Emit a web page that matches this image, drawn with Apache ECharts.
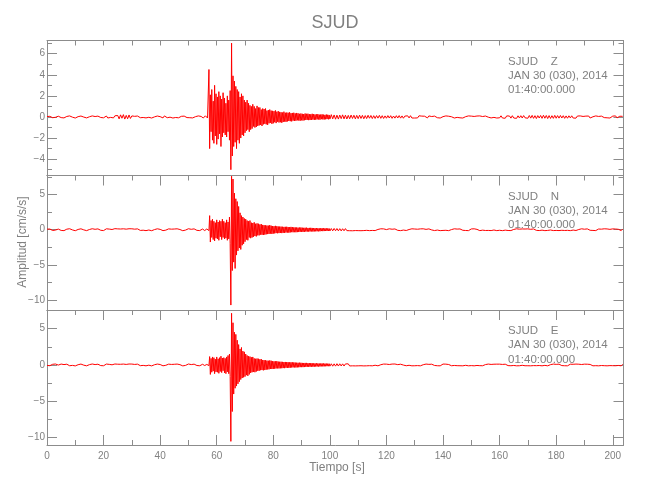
<!DOCTYPE html>
<html><head><meta charset="utf-8">
<script src="https://cdn.jsdelivr.net/npm/echarts@6/dist/echarts.min.js"></script>
<style>html,body{margin:0;padding:0;background:#fff}#c{width:650px;height:500px}</style>
</head><body><div id="c"></div>
<script>
// ---------- text ----------
const stationName = 'SJUD';
const componentNames = ['Z', 'N', 'E'];
const dateText = 'JAN 30 (030), 2014';
const startText = '01:40:00.000';
const xTitle = 'Tiempo [s]';
const yTitle = 'Amplitud [cm/s/s]';

// ---------- axes ----------
const timeRange = [0, 203.8];
const timeTickStep = 20;
const zRange = [-5.55, 7.25];
const nRange = [-11.4, 7.7];
const eRange = [-11, 7.55];
const ampTickSteps = [2, 5, 5];

// ---------- sampling of the readings: pre-event, event, coda tail ----------
const segmentStarts = [0, 55, 100];   // s
const segmentSteps = [0.5, 0.25, 0.5]; // s between readings

// ---------- Z component ----------
const zPre = [
.04,-.08,.06,.02,-.07,.09,-.03,-.1,.07,.01,
-.06,.08,-.09,.03,.05,-.07,.1,-.04,-.02,.08,
-.1,.05,.03,-.08,.09,-.05,-.01,.07,-.09,.06,
.02,-.07,.1,-.06,.04,-.09,.08,.01,-.05,.07,
-.08,.03,.09,-.1,.06,-.04,.02,-.09,.11,-.06,
.14,-.18,.2,-.12,.22,-.2,.15,-.17,.19,-.14,
.1,-.08,.06,-.11,.09,.02,-.07,.1,-.05,.04,
-.09,.07,-.03,.08,-.1,.05,.01,-.06,.09,-.08,
.03,.06,-.09,.1,-.04,-.07,.08,-.02,.05,-.1,
.07,-.05,.09,-.08,.02,.06,-.1,.08,-.03,-.06,
.1,-.07,.04,-.09,.08,.03,-.06,.1,-.08,.05
];
const zEvent = [
.08,-.1,.06,-.09,.11,-.07,.09,-.1,.05,4.5,
-3.0,2.1,-1.4,2.6,-2.2,1.5,-2.5,3.0,-1.8,2.2,
-2.6,1.9,-2.1,2.4,-1.6,2.0,-2.8,1.7,-1.9,2.3,
-1.5,1.8,-1.7,1.3,-1.9,2.0,-1.4,1.6,-2.2,2.5,
-5.0,7.0,-3.7,3.9,-2.8,3.4,-2.4,2.9,-3.0,2.6,
-2.2,2.4,-2.5,1.9,-2.0,2.2,-1.7,2.0,-1.8,1.6,
-1.5,1.4,-1.3,1.6,-1.2,1.3,-1.4,1.1,-1.2,1.0,
-1.1,1.2,-.9,1.0,-1.0,.8,-.95,1.05,-.85,.9,
-.8,.9,-.75,.7,-.85,.8,-.7,.75,-.65,.8,
-.7,.6,-.75,.65,-.6,.7,-.55,.6,-.65,.58,
-.6,.55,-.5,.62,-.58,.5,-.45,.55,-.52,.48,
-.5,.45,-.55,.42,-.48,.5,-.44,.4,-.46,.42,
-.42,.4,-.38,.44,-.4,.36,-.42,.38,-.35,.4,
-.38,.34,-.36,.38,-.32,.35,-.34,.3,-.36,.33,
-.32,.3,-.34,.28,-.31,.33,-.29,.3,-.27,.31,
-.3,.27,-.29,.26,-.28,.3,-.25,.27,-.28,.24,
-.26,.25,-.23,.27,-.24,.22,-.26,.23,-.21,.25,
-.23,.22,-.24,.2,-.22,.23,-.2,.21,-.22,.19
];
const zPost = [
-.2,.22,-.18,.19,-.21,.17,-.2,.18,-.16,.2,
-.18,.17,-.19,.15,-.17,.18,-.14,.16,-.18,.15,
-.16,.17,-.14,.15,-.17,.13,-.15,.16,-.12,.14,
-.15,.12,-.14,.13,-.11,.15,-.13,.12,-.14,.1,
-.12,.13,-.1,.12,-.13,.09,-.11,.12,-.1,.13,
-.11,.1,-.12,.08,-.1,.11,-.09,.12,-.1,.08,
-.1,.06,-.09,.11,-.04,.08,-.1,.07,.02,-.09,
.1,-.06,.04,-.1,.08,-.03,-.07,.09,-.1,.06,
.03,-.08,.1,-.05,.07,-.09,.02,.08,-.1,.06,
-.04,.09,-.08,.05,-.1,.07,.03,-.09,.1,-.06,
.08,-.1,.05,-.03,.09,-.07,.1,-.08,.04,-.06,
.09,-.05,-.02,.1,-.09,.07,-.04,.08,-.1,.06,
-.08,.11,-.1,.07,-.12,.1,-.06,.09,-.11,.12,
-.1,.08,-.13,.11,-.09,.12,-.1,.13,-.08,.1,
-.12,.14,-.11,.15,-.13,.12,-.15,.13,-.1,.14,
-.13,.16,-.12,.14,-.15,.13,-.14,.12,-.13,.15,
-.12,.13,-.11,.14,-.1,.12,-.13,.1,-.12,.11,
-.09,.11,-.1,.07,-.11,.09,-.06,.1,-.08,.05,
-.1,.08,-.04,.09,-.1,.06,.02,-.08,.1,-.07,
.05,-.09,.08,-.03,-.06,.1,-.08,.07,-.1,.04,
.08,-.06,.1,-.09,.03,.07,-.1,.06
];

// ---------- N component ----------
const nPre = [
.08,-.12,.1,.03,-.11,.13,-.05,-.14,.09,.02,
-.1,.12,-.13,.05,.08,-.11,.14,-.06,-.03,.12,
-.14,.08,.04,-.12,.13,-.08,-.02,.11,-.13,.09,
.03,-.11,.14,-.09,.06,-.13,.12,.02,-.08,.11,
-.12,.05,.13,-.14,.09,-.06,.03,-.13,.15,-.09,
.12,-.14,.1,-.05,.13,-.12,.08,-.1,.14,-.11,
.13,-.1,.08,-.14,.12,.03,-.1,.14,-.07,.06,
-.13,.1,-.04,.12,-.14,.08,.02,-.09,.13,-.12,
.05,.09,-.13,.14,-.06,-.1,.12,-.03,.08,-.14,
.1,-.08,.13,-.12,.03,.09,-.14,.12,-.05,-.09,
.14,-.1,.06,-.13,.12,.04,-.09,.14,-.12,.08
];
const nEvent = [
.1,-.13,.08,-.12,.14,-.09,.11,-.1,.07,-.12,
2.0,-1.75,1.3,-1.1,1.5,-1.4,1.2,-1.6,1.0,-1.2,
1.4,-1.3,1.1,-1.5,1.3,-1.0,1.2,-1.4,1.5,-1.1,
1.2,-1.3,1.0,-1.2,1.4,-1.5,1.1,-1.3,1.8,-2.0,
-10.7,7.6,-5.8,7.2,-4.6,5.2,-5.5,4.4,-3.6,4.0,
-3.0,3.3,-2.6,2.4,-2.8,2.0,-2.2,1.8,-2.0,1.6,
-1.7,1.5,-1.4,1.3,-1.5,1.2,-1.1,1.3,-1.2,1.0,
-1.1,.95,-1.0,1.05,-.9,.85,-.95,.9,-.8,.85,
-.8,.75,-.7,.8,-.72,.68,-.75,.65,-.7,.62,
-.65,.6,-.62,.58,-.6,.65,-.55,.57,-.6,.52,
-.55,.5,-.52,.55,-.48,.5,-.5,.46,-.48,.45,
-.46,.44,-.48,.42,-.44,.4,-.45,.41,-.4,.42,
-.4,.38,-.42,.36,-.38,.4,-.35,.37,-.36,.34,
-.35,.33,-.36,.32,-.34,.3,-.33,.31,-.3,.32,
-.3,.29,-.31,.27,-.3,.28,-.26,.29,-.27,.25,
-.27,.26,-.25,.27,-.24,.25,-.26,.23,-.24,.22,
-.23,.24,-.22,.21,-.23,.2,-.22,.21,-.19,.22,
-.2,.21,-.19,.2,-.18,.2,-.17,.19,-.18,.17
];
const nPost = [
-.18,.17,-.16,.18,-.15,.17,-.16,.15,-.17,.14,
-.15,.16,-.13,.15,-.14,.12,-.15,.13,-.12,.14,
-.13,.12,-.14,.1,-.12,.13,-.09,.12,-.13,.11,
-.1,.13,-.12,.08,.04,-.11,.13,-.09,.12,-.06,
.02,-.12,.13,-.1,.07,-.13,.11,.03,-.09,.12,
-.13,.09,-.05,.12,-.11,.06,.03,-.12,.13,-.08,
.1,-.13,.07,-.04,.12,-.1,.13,-.11,.05,-.08,
.12,-.06,-.03,.13,-.12,.09,-.05,.11,-.13,.08,
-.1,.12,-.08,.05,-.13,.1,.02,-.11,.13,-.07,
.09,-.12,.11,-.04,-.08,.13,-.11,.09,-.13,.06,
.11,-.09,.13,-.12,.05,.1,-.13,.08,-.06,.12,
-.11,.13,-.1,.07,-.12,.11,-.04,.09,-.13,.1,
-.08,.12,-.13,.1,-.06,.13,-.11,.08,-.12,.09,
.04,-.1,.13,-.12,.08,-.05,.11,-.13,.1,-.07,
.12,-.1,.06,-.13,.11,.03,-.09,.13,-.12,.07,
-.06,.11,-.13,.09,-.1,.12,-.04,.08,-.12,.13,
-.1,.07,-.12,.13,-.08,.05,-.11,.12,-.09,.1,
-.13,.1,-.05,.12,-.11,.08,.03,-.1,.13,-.12,
.07,-.09,.12,-.04,-.08,.13,-.1,.09,-.12,.06,
.1,-.12,.08,-.06,.13,-.1,.11,-.13,.05,-.09,
.12,-.08,.1,-.11,.06,.09,-.12,.1
];

// ---------- E component ----------
const ePre = [
-.07,.11,-.1,.04,.09,-.12,.13,-.05,-.02,.11,
.12,-.09,.05,-.12,.1,.02,-.11,.13,-.06,.08,
-.13,.07,.03,-.1,.12,-.07,-.03,.1,-.12,.08,
.04,-.12,.13,-.08,.05,-.11,.1,.03,-.09,.12,
-.11,.06,.12,-.13,.08,-.05,.02,-.12,.13,-.1,
.1,-.12,.09,-.06,.12,-.1,.07,-.11,.13,-.09,
.12,-.09,.07,-.13,.11,.02,-.1,.13,-.06,.05,
-.12,.09,-.03,.11,-.13,.07,.03,-.08,.12,-.1,
.06,.08,-.12,.13,-.05,-.09,.11,-.04,.07,-.13,
.09,-.07,.12,-.11,.04,.08,-.13,.11,-.06,-.08,
.13,-.09,.05,-.12,.11,.03,-.08,.13,-.11,.07
];
const eEvent = [
.09,-.12,.11,-.08,.13,-.1,.07,-.11,.12,-.09,
1.15,-1.3,.9,-1.0,1.1,-.85,1.0,-1.2,.8,-.95,
1.1,-1.0,.85,-1.15,1.0,-.9,1.2,-1.05,.95,-.8,
1.0,-1.1,.9,-1.2,1.1,-.95,1.3,-1.2,1.5,-1.6,
-10.5,7.1,-6.4,5.8,-4.0,4.5,-3.2,4.2,-2.9,3.4,
-2.6,2.8,-2.3,2.2,-2.0,2.4,-1.8,1.9,-1.7,1.8,
-1.6,1.5,-1.4,1.3,-1.5,1.2,-1.3,1.15,-1.1,1.05,
-1.0,1.1,-.95,.9,-1.0,.85,-.9,.88,-.8,.85,
-.8,.78,-.72,.8,-.7,.68,-.74,.66,-.7,.64,
-.65,.6,-.62,.58,-.6,.62,-.55,.58,-.56,.52,
-.54,.5,-.52,.5,-.48,.52,-.47,.46,-.48,.44,
-.46,.44,-.45,.42,-.43,.4,-.44,.41,-.39,.4,
-.4,.38,-.4,.36,-.38,.37,-.35,.36,-.34,.35,
-.34,.33,-.35,.31,-.33,.3,-.32,.31,-.3,.3,
-.3,.28,-.3,.27,-.29,.28,-.26,.28,-.26,.25,
-.26,.25,-.25,.26,-.24,.24,-.25,.22,-.24,.22,
-.22,.23,-.21,.21,-.22,.2,-.21,.2,-.19,.21,
-.2,.2,-.19,.19,-.18,.19,-.17,.18,-.17,.17
];
const ePost = [
-.17,.16,-.17,.15,-.16,.17,-.15,.16,-.14,.15,
-.15,.14,-.13,.15,-.14,.13,-.12,.14,-.13,.12,
-.12,.13,-.11,.12,-.13,.1,-.12,.11,-.1,.12,
-.12,.09,-.04,.11,-.12,.07,.03,-.1,.12,-.08,
.11,-.12,.06,-.03,.12,-.1,.13,-.09,.04,-.07,
.1,-.07,-.02,.12,-.11,.08,-.05,.1,-.12,.09,
-.11,.12,-.09,.06,-.12,.1,.03,-.1,.12,-.07,
.08,-.12,.1,-.05,-.07,.12,-.11,.1,-.12,.05,
.12,-.08,.11,-.12,.06,.09,-.11,.1,-.07,.11,
-.1,.12,-.11,.06,-.12,.1,-.05,.08,-.12,.11,
-.09,.11,-.12,.1,-.07,.12,-.1,.07,-.11,.09,
.05,-.1,.12,-.11,.07,-.06,.1,-.12,.11,-.08,
.11,-.1,.07,-.12,.1,.04,-.09,.12,-.11,.06,
-.07,.1,-.12,.09,-.11,.12,-.05,.09,-.11,.12,
-.11,.08,-.12,.11,-.09,.06,-.1,.12,-.08,.09,
-.12,.1,-.06,.11,-.12,.09,.04,-.1,.12,-.11,
.08,-.1,.11,-.05,-.09,.12,-.11,.08,-.12,.07,
.1,-.11,.09,-.07,.12,-.1,.1,-.12,.06,-.08,
.11,-.09,.1,-.11,.07,.08,-.12,.09,-.1,.11,
-.12,.1,-.08,.11,-.1,.06,-.12,.1,-.09,.12,
-.1,.09,-.11,.1,-.07,.11,-.12,.09
];

// ---------- drawing ----------
const traceSegments = [[zPre, zEvent, zPost], [nPre, nEvent, nPost], [ePre, eEvent, ePost]];
const ranges = [zRange, nRange, eRange];
const axisGray = '#8c8c8c';
const textGray = '#808080';
const traceRed = '#ff0000';
const fontReg = '"Liberation Sans", Arial, sans-serif';
const fontNarrow = '"Liberation Sans Narrow", "Liberation Sans", sans-serif';
const panelTops = [40.5, 175.5, 310];
const panelHeights = [135, 134.5, 135];
const plotLeft = 47, plotRight = 26.5;

function toPoints(segs) {
  const pts = [];
  segs.forEach((vals, s) => vals.forEach((v, k) => pts.push([segmentStarts[s] + k * segmentSteps[s], v])));
  return pts;
}
const minusFmt = v => String(v).replace('-', '\u2212');
const line = { color: axisGray, width: 1 };

const grid = [], xAxis = [], yAxis = [], series = [], graphic = [];
for (let i = 0; i < 3; i++) {
  grid.push({ left: plotLeft, right: plotRight, top: panelTops[i], height: panelHeights[i] });
  const last = i === 2;
  xAxis.push({
    type: 'value', gridIndex: i, position: 'bottom', min: timeRange[0], max: timeRange[1], interval: timeTickStep,
    axisLine: { show: true, onZero: false, lineStyle: line },
    axisTick: { show: last, inside: true, length: 10, lineStyle: line },
    minorTick: { show: last, splitNumber: 2, length: 5, lineStyle: line },
    axisLabel: { show: last, margin: 6, color: textGray, fontFamily: fontReg, fontSize: 10, showMaxLabel: false },
    splitLine: { show: false }, minorSplitLine: { show: false }
  });
  xAxis.push({
    type: 'value', gridIndex: i, position: 'top', min: timeRange[0], max: timeRange[1], interval: timeTickStep,
    axisLine: { show: true, onZero: false, lineStyle: line },
    axisTick: { show: true, inside: true, length: i === 0 ? 5 : 10, lineStyle: line },
    minorTick: { show: true, splitNumber: 2, length: 5, lineStyle: line },
    axisLabel: { show: false }, splitLine: { show: false }
  });
  const step = ampTickSteps[i];
  const yBase = {
    type: 'value', gridIndex: i, min: ranges[i][0], max: ranges[i][1],
    minInterval: step, maxInterval: step, splitNumber: 6,
    axisLine: { show: true, onZero: false, lineStyle: line },
    axisTick: { show: true, inside: true, length: 10, lineStyle: line },
    minorTick: { show: true, splitNumber: 2, length: 5, lineStyle: line },
    splitLine: { show: false }
  };
  yAxis.push(Object.assign({}, yBase, {
    position: 'left',
    axisLabel: { show: true, margin: 2, color: textGray, fontFamily: fontReg, fontSize: 10,
      formatter: minusFmt, showMinLabel: false, showMaxLabel: false }
  }));
  yAxis.push(Object.assign({}, yBase, { position: 'right', axisLabel: { show: false } }));

  series.push({
    type: 'line', xAxisIndex: 2 * i, yAxisIndex: 2 * i,
    data: toPoints(traceSegments[i]),
    showSymbol: false, symbol: 'none', clip: true, silent: true,
    lineStyle: { color: traceRed, width: 1 }
  });

  const infoLines = [stationName + '    ' + componentNames[i], dateText, startText];
  infoLines.forEach((t, j) => graphic.push({
    type: 'text', x: 508, y: panelTops[i] + 21 + j * 14.2,
    style: { text: t, fill: textGray, fontFamily: fontReg, fontSize: 11.5, verticalAlign: 'middle', align: 'left' }
  }));
}
graphic.push({ type: 'text', x: 335, y: 23, style: { text: stationName, fill: textGray, fontFamily: fontNarrow, fontSize: 18, align: 'center', verticalAlign: 'middle' } });
graphic.push({ type: 'text', x: 337, y: 468, style: { text: xTitle, fill: textGray, fontFamily: fontReg, fontSize: 12, align: 'center', verticalAlign: 'middle' } });
graphic.push({ type: 'text', x: 23, y: 242, rotation: Math.PI / 2, style: { text: yTitle, fill: textGray, fontFamily: fontReg, fontSize: 12, align: 'center', verticalAlign: 'middle' } });

const chart = echarts.init(document.getElementById('c'), null, { renderer: 'canvas' });
chart.setOption({ animation: false, backgroundColor: '#fff', grid, xAxis, yAxis, series, graphic });
</script>
</body></html>
